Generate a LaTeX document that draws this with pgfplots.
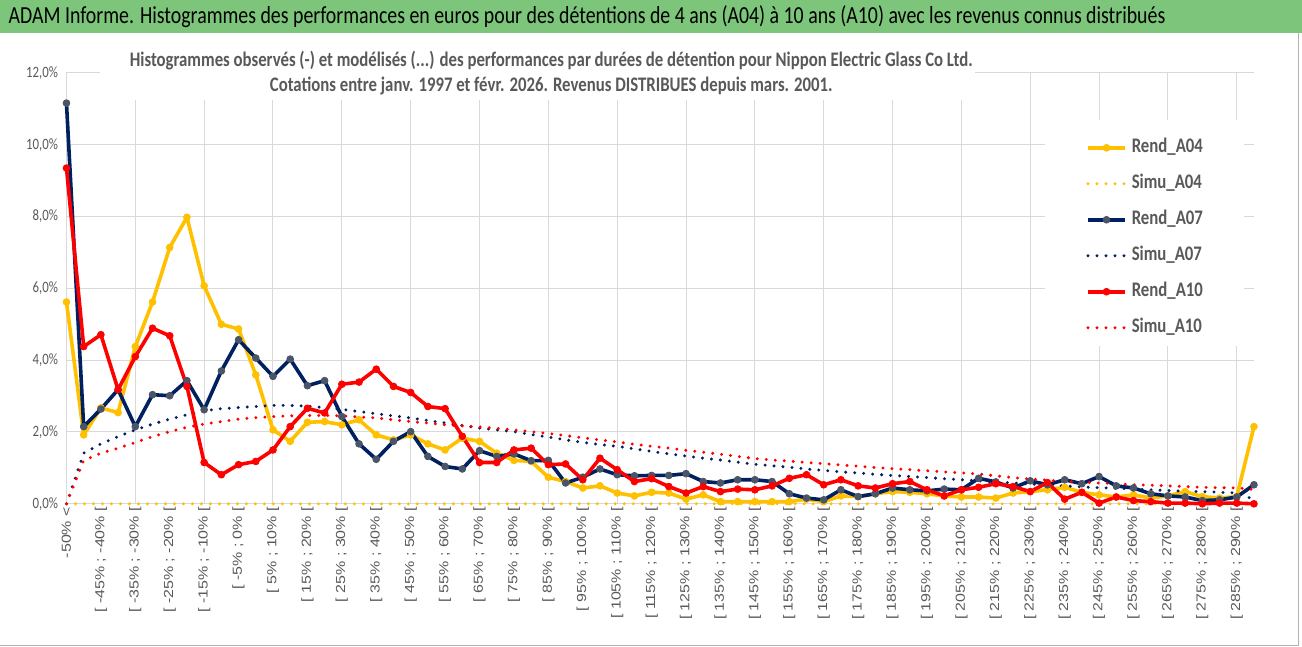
\documentclass[border=0pt]{standalone}
\usepackage{fontspec}
\setmainfont{Carlito}[FakeStretch=0.81]
\newfontfamily\arialf{Liberation Sans}[FakeStretch=1.0]
\usepackage{graphicx}
\usepackage{pgfplots}
\usepackage{pgfplotstable}
\pgfplotsset{compat=1.18}
\definecolor{tgreen}{RGB}{124,197,122}
\definecolor{tgray}{RGB}{89,89,89}
\definecolor{gridc}{RGB}{217,217,217}
\definecolor{gold}{RGB}{255,192,0}
\definecolor{navy}{RGB}{0,32,96}
\definecolor{slate}{RGB}{74,85,104}
\definecolor{red1}{RGB}{255,0,0}
\newcommand\lab[2]{\scalebox{1}[0.82]{\arialf{[} #1\% ; #2\% {[}}}

\pgfplotstableread{
i a04 s04 a07 s07 a10 s10
0 5.62 0 11.16 0 9.35 0
1 1.92 0 2.15 1.41 4.38 1.21
2 2.67 0 2.64 1.67 4.71 1.41
3 2.54 0 3.18 1.87 3.18 1.55
4 4.38 0 2.15 2.06 4.10 1.71
5 5.62 0 3.04 2.22 4.89 1.87
6 7.14 0 3.01 2.36 4.68 2.01
7 7.98 0 3.43 2.48 3.27 2.13
8 6.07 0 2.62 2.59 1.15 2.22
9 5.00 0 3.70 2.65 0.81 2.29
10 4.87 0 4.57 2.68 1.09 2.36
11 3.59 0 4.06 2.71 1.18 2.40
12 2.06 0 3.55 2.74 1.50 2.43
13 1.74 0 4.03 2.74 2.15 2.45
14 2.27 0 3.29 2.72 2.66 2.46
15 2.29 0 3.43 2.68 2.53 2.46
16 2.20 0 2.43 2.63 3.33 2.45
17 2.34 0 1.67 2.57 3.39 2.42
18 1.92 0 1.24 2.51 3.75 2.39
19 1.78 0 1.74 2.45 3.27 2.34
20 1.92 0 2.01 2.39 3.10 2.29
21 1.67 0 1.32 2.32 2.71 2.25
22 1.50 0 1.04 2.25 2.65 2.20
23 1.83 0 0.97 2.18 1.88 2.17
24 1.74 0 1.48 2.11 1.15 2.14
25 1.41 0 1.32 2.06 1.15 2.10
26 1.21 0 1.39 2.01 1.50 2.06
27 1.18 0 1.20 1.93 1.55 2.01
28 0.74 0 1.21 1.86 1.09 1.96
29 0.62 0 0.58 1.78 1.11 1.90
30 0.44 0 0.74 1.71 0.67 1.84
31 0.50 0 0.97 1.65 1.27 1.78
32 0.30 0 0.81 1.60 0.95 1.72
33 0.22 0 0.78 1.53 0.62 1.66
34 0.32 0 0.79 1.46 0.70 1.60
35 0.30 0 0.79 1.39 0.48 1.55
36 0.13 0 0.84 1.33 0.30 1.49
37 0.25 0 0.62 1.27 0.48 1.44
38 0.06 0 0.58 1.22 0.34 1.38
39 0.06 0 0.67 1.16 0.41 1.32
40 0.06 0 0.67 1.10 0.39 1.26
41 0.06 0 0.62 1.06 0.50 1.22
42 0.06 0 0.28 1.02 0.71 1.19
43 0.13 0 0.16 0.97 0.81 1.15
44 0.06 0 0.11 0.93 0.53 1.12
45 0.22 0 0.39 0.89 0.67 1.08
46 0.20 0 0.20 0.86 0.50 1.05
47 0.28 0 0.28 0.82 0.44 1.01
48 0.34 0 0.44 0.79 0.56 0.98
49 0.32 0 0.39 0.76 0.62 0.95
50 0.28 0 0.36 0.73 0.39 0.92
51 0.22 0 0.41 0.70 0.22 0.89
52 0.19 0 0.39 0.67 0.39 0.86
53 0.19 0 0.71 0.64 0.46 0.83
54 0.16 0 0.61 0.61 0.56 0.78
55 0.30 0 0.44 0.58 0.48 0.73
56 0.34 0 0.64 0.55 0.34 0.69
57 0.39 0 0.53 0.52 0.59 0.66
58 0.46 0 0.67 0.50 0.13 0.62
59 0.32 0 0.56 0.47 0.32 0.60
60 0.25 0 0.76 0.45 0.02 0.58
61 0.19 0 0.50 0.43 0.19 0.56
62 0.25 0 0.44 0.41 0.09 0.53
63 0.16 0 0.28 0.39 0.06 0.52
64 0.22 0 0.22 0.37 0.02 0.50
65 0.34 0 0.19 0.35 0.02 0.48
66 0.20 0 0.09 0.34 0.00 0.46
67 0.16 0 0.11 0.32 0.02 0.45
68 0.20 0 0.19 0.30 0.02 0.44
69 2.15 0 0.53 0.12 0.00 0.40
}\datatab

\begin{document}
\begin{tikzpicture}
\fill[white] (0pt,0pt) rectangle (1302pt,647pt);
\fill[tgreen] (0pt,614pt) rectangle (1302pt,647pt);
\node[anchor=base west, inner sep=0pt, font=\fontsize{24.5}{24.5}\selectfont] at (8pt,623pt) {ADAM Informe. Histogrammes des performances en euros pour des détentions de 4 ans (A04) à 10 ans (A10) avec les revenus connus distribués};
\begin{axis}[
  scale only axis, width=1188pt, height=431pt,
  at={(66pt,143pt)}, anchor=south west,
  xmin=0, xmax=69, ymin=0, ymax=12,
  clip=false,
  axis line style={draw=none},
  xtick={0,2,...,68},
  xticklabels={{\scalebox{1}[0.82]{\arialf -50\% <}},\lab{-45}{-40},\lab{-35}{-30},\lab{-25}{-20},\lab{-15}{-10},\lab{-5}{0},\lab{5}{10},\lab{15}{20},\lab{25}{30},\lab{35}{40},\lab{45}{50},\lab{55}{60},\lab{65}{70},\lab{75}{80},\lab{85}{90},\lab{95}{100},\lab{105}{110},\lab{115}{120},\lab{125}{130},\lab{135}{140},\lab{145}{150},\lab{155}{160},\lab{165}{170},\lab{175}{180},\lab{185}{190},\lab{195}{200},\lab{205}{210},\lab{215}{220},\lab{225}{230},\lab{235}{240},\lab{245}{250},\lab{255}{260},\lab{265}{270},\lab{275}{280},\lab{285}{290}},
  x tick style={draw=none},
  ytick={0,2,...,12},
  yticklabels={{0,0\%},{2,0\%},{4,0\%},{6,0\%},{8,0\%},{10,0\%},{12,0\%}},
  y tick style={draw=none},
  ymajorgrids,
  grid style={draw=gridc, line width=1pt},
  extra x ticks={0,4,...,68},
  extra x tick labels={},
  extra x tick style={grid=major, major tick length=5pt, tick align=outside, tick style={draw=gridc, line width=1pt}},
  yticklabel style={font=\fontsize{15.8}{15.8}\selectfont, text=tgray, xshift=-5pt},
  xticklabel style={font=\arialf\fontsize{16}{16}\selectfont, text=tgray, rotate=90, anchor=east, inner sep=3pt},
  legend cell align=left,
  legend style={at={(axis cs:59.24,10.20)}, anchor=north west, draw=none, fill=none,
    inner sep=0pt, row sep=16pt,
    font=\fontsize{20.7}{20.7}\selectfont\bfseries, text=tgray,
    nodes={inner sep=0pt, text height=15pt, text depth=5pt},
    /tikz/every odd column/.append style={column sep=5pt}},
  legend image code/.code={\draw[mark repeat=2, mark phase=2, #1] plot coordinates {(0pt,0pt)(18.5pt,0pt)(37pt,0pt)};},
  rend/.style={line width=3.6pt, line join=round, mark=*, mark size=3.4pt},
  simu/.style={line width=3.3pt, line cap=round, dash pattern=on 0pt off 9pt},
]
\addplot[rend, gold, mark options={fill=gold, draw=gold, line width=0.8pt, solid}] table[x=i, y=a04] {\datatab};
\addlegendentry{Rend\_A04}
\addplot[simu, gold] table[x=i, y=s04] {\datatab};
\addlegendentry{Simu\_A04}
\addplot[rend, navy, mark options={fill=slate, draw=slate, line width=0.8pt, solid}] table[x=i, y=a07] {\datatab};
\addlegendentry{Rend\_A07}
\addplot[simu, navy] table[x=i, y=s07] {\datatab};
\addlegendentry{Simu\_A07}
\addplot[rend, red1, mark options={fill=red1, draw=red1, line width=0.8pt, solid}] table[x=i, y=a10] {\datatab};
\addlegendentry{Rend\_A10}
\addplot[simu, red1] table[x=i, y=s10] {\datatab};
\addlegendentry{Simu\_A10}
\fill[white] (axis cs:56.86,10.7) rectangle (axis cs:68.4,4.4);
\end{axis}
\fill[white] (100pt,547pt) rectangle (975pt,602pt);
\node[anchor=base, inner sep=0pt, font=\fontsize{20.7}{20.7}\selectfont\bfseries, text=tgray] at (551pt,580.5pt) {Histogrammes observés (-) et modélisés (...) des performances par durées de détention pour Nippon Electric Glass Co Ltd.};
\node[anchor=base, inner sep=0pt, font=\fontsize{20.7}{20.7}\selectfont\bfseries, text=tgray] at (551pt,555.5pt) {Cotations entre janv. 1997 et févr. 2026. Revenus DISTRIBUES depuis mars. 2001.};
\draw[gray!60, line width=1pt] (0pt,1.5pt) -- (1298pt,1.5pt) -- (1298pt,614pt);
\end{tikzpicture}
\end{document}
